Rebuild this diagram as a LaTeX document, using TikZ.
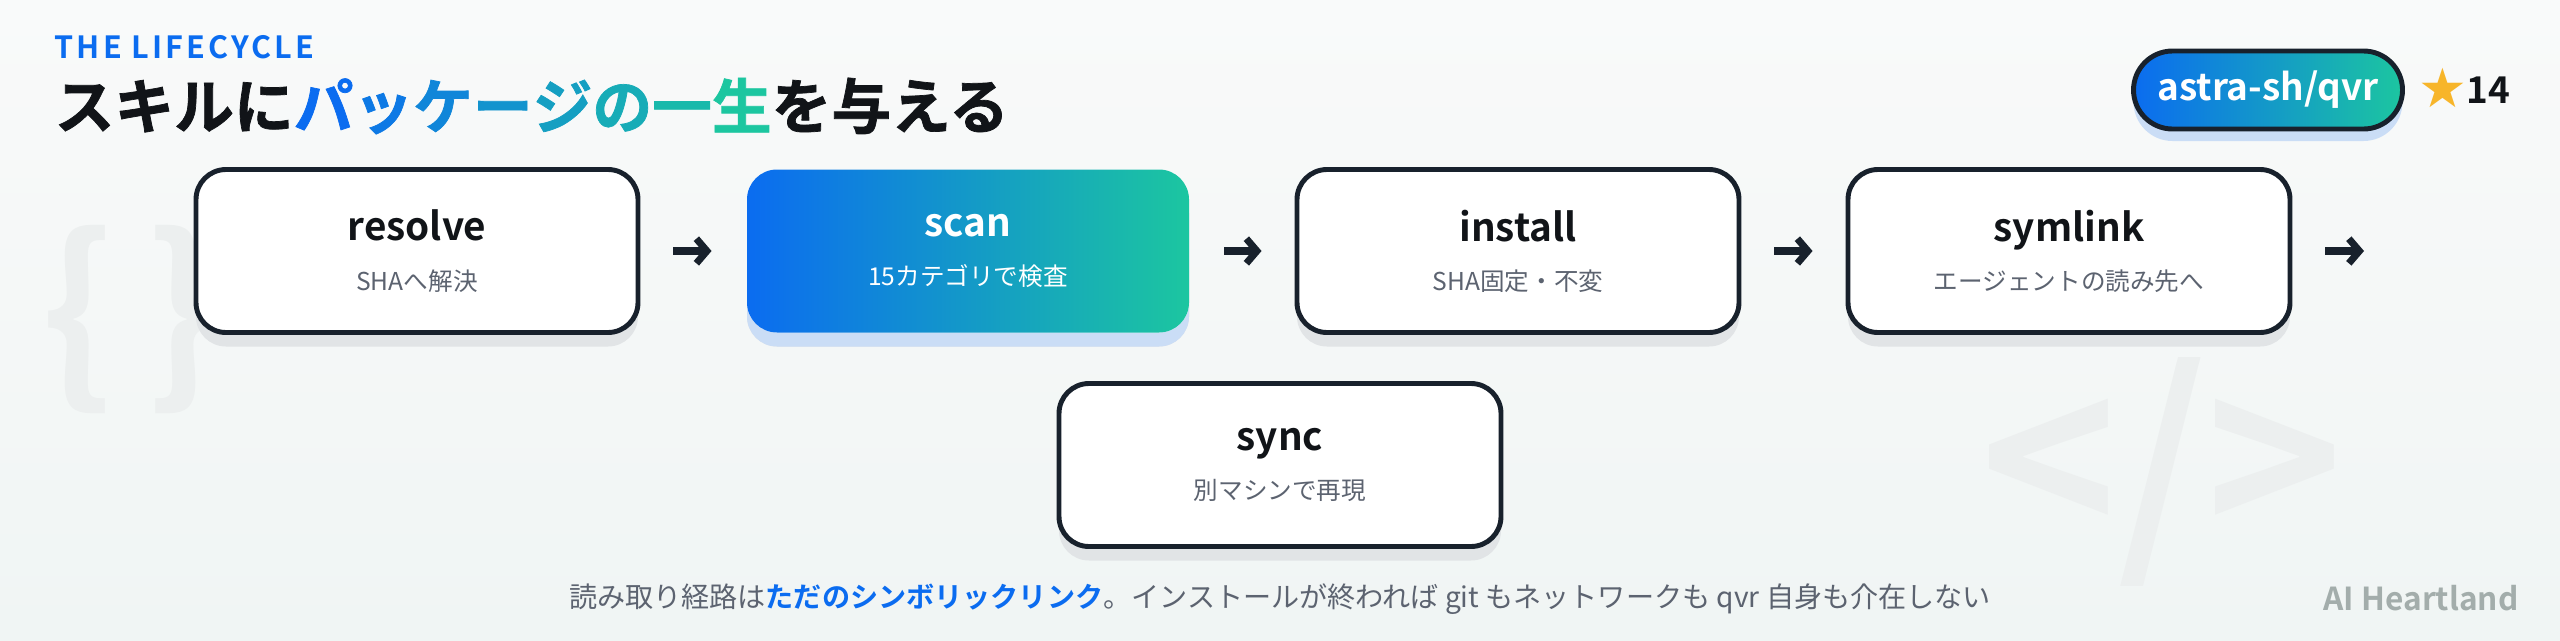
\documentclass[tikz,border=0pt]{standalone}
\usepackage{fontspec}
\usepackage{xcolor}
\usepackage{tikz}
\usetikzlibrary{arrows.meta,shadows}
\setmainfont{Noto Sans CJK JP}[BoldFont={Noto Sans CJK JP Bold}]
\newfontfamily\symbolfont{DejaVu Sans}
\definecolor{qblue}{HTML}{0B6CF0}
\definecolor{qteal}{HTML}{1CC6A0}
\definecolor{ink}{HTML}{18212C}
\definecolor{titleink}{HTML}{111418}
\definecolor{subgray}{HTML}{5C6370}
\definecolor{shadowgray}{HTML}{E1E4E6}
\definecolor{shadowblue}{HTML}{CADDF6}
\definecolor{bgtop}{HTML}{F9FAFA}
\definecolor{bgbottom}{HTML}{F0F5F4}
\definecolor{decogray}{HTML}{ECEFEF}
\definecolor{brandgray}{HTML}{A3ADAB}
\definecolor{stargold}{HTML}{F7B52A}

\newcommand{\steptitle}[1]{{\fontsize{11}{14}\selectfont\bfseries #1}}
\newcommand{\stepsub}[1]{{\fontsize{7}{14}\selectfont #1}}

\begin{document}
\begin{tikzpicture}[
  box/.style={rectangle,draw=ink,line width=1.4pt,rounded corners=0.3cm,
    fill=white,minimum width=4.42cm,minimum height=1.63cm,
    align=center,font=\fontsize{7}{14}\selectfont,text=titleink,
    drop shadow={shadow xshift=0cm,shadow yshift=-0.14cm,
      fill=shadowgray,opacity=1}},
  hotbox/.style={box,draw=none,left color=qblue,right color=qteal,text=white,
    drop shadow={shadow xshift=0cm,shadow yshift=-0.14cm,
      fill=shadowblue,opacity=1}},
  arr/.style={-{Straight Barb[length=3pt,width=7pt]},line width=2pt,draw=ink,
    shorten >=0.33cm,shorten <=0.33cm}]

  % canvas
  \useasboundingbox (0,0) rectangle (25.6,6.4);
  \shade[top color=bgtop,bottom color=bgbottom] (0,0) rectangle (25.6,6.4);

  % faint code marks
  \node[text=decogray,font=\fontsize{55}{55}\selectfont\bfseries] (braces) at (1.31,3.20) {\{\,\}};
  \node[text=decogray,font=\fontsize{66}{66}\selectfont\bfseries] (tag) at (21.62,1.68) {</>};

  % heading
  \node[anchor=west,inner sep=0pt,text=qblue,font=\fontsize{8.7}{10}\selectfont\bfseries\addfontfeatures{LetterSpace=10}] (kicker) at (0.54,5.93) {THE LIFECYCLE};
  \node[anchor=west,inner sep=0pt,text=titleink,font=\fontsize{17}{18}\selectfont\bfseries\addfontfeatures{FakeBold=1.2}] (headline) at (0.54,5.34)
    {スキルに{\color{qblue}パ}{\color{qblue!86!qteal}ッ}{\color{qblue!71!qteal}ケ}{\color{qblue!57!qteal}ー}{\color{qblue!43!qteal}ジ}{\color{qblue!29!qteal}の}{\color{qblue!14!qteal}一}{\color{qteal}生}を与える};

  % repo badge
  \node[draw=ink,line width=1.4pt,rounded corners=0.39cm,minimum width=2.69cm,minimum height=0.78cm,
    left color=qblue,right color=qteal,text=white,font=\fontsize{10.5}{12}\selectfont\bfseries,
    drop shadow={shadow xshift=0cm,shadow yshift=-0.12cm,fill=shadowblue,opacity=1}] (repo) at (22.68,5.50) {astra-sh/qvr};
  \node[text=stargold,font=\fontsize{15.5}{16}\selectfont\symbolfont,inner sep=0pt] (star) at (24.43,5.52) {★};
  \node[anchor=west,text=titleink,font=\fontsize{10.5}{12}\selectfont\bfseries,inner sep=0pt] (stars) at (24.66,5.50) {14};

  % lifecycle steps
  \node[box] (resolve) at (4.17,3.89) {\steptitle{resolve}\\\stepsub{\color{subgray}SHAへ解決}};
  \node[hotbox] (scan) at (9.68,3.89) {\steptitle{scan}\\\stepsub{15カテゴリで検査}};
  \node[box] (install) at (15.18,3.89) {\steptitle{install}\\\stepsub{\color{subgray}SHA固定・不変}};
  \node[box] (symlink) at (20.69,3.89) {\steptitle{symlink}\\\stepsub{\color{subgray}エージェントの読み先へ}};
  \node[box] (sync) at (12.80,1.75) {\steptitle{sync}\\\stepsub{\color{subgray}別マシンで再現}};
  \coordinate (onward) at (23.97,3.89);

  \draw[arr] (resolve) -- (scan);
  \draw[arr] (scan) -- (install);
  \draw[arr] (install) -- (symlink);
  \draw[arr] (symlink) -- (onward);

  % footer
  \node[text=subgray,font=\fontsize{8}{10}\selectfont] (note) at (12.80,0.41)
    {読み取り経路は{\color{qblue}\bfseries ただのシンボリックリンク}。インストールが終われば git もネットワークも qvr 自身も介在しない};
  \node[text=brandgray,font=\fontsize{9}{10}\selectfont\bfseries] (brand) at (24.21,0.42) {AI Heartland};
\end{tikzpicture}
\end{document}
